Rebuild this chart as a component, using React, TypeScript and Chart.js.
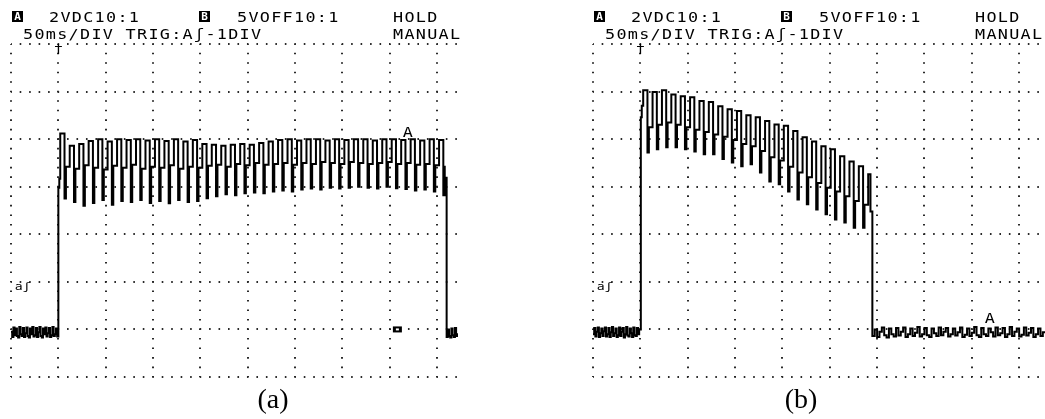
import React, { useEffect, useRef } from "react";
import { Chart, registerables } from "chart.js";
Chart.register(...registerables);

const W = 1045;
const H = 419;

// grid ticks, in divisions
const xTicks = [0, 1, 2, 3, 4, 5, 6, 7, 8, 9];
const yTicks = [0, 1, 2, 3, 4, 5, 6, 7];

// ---------- Panel (a) : values in divisions ----------
const aNoiseBefore = [0.95, 0.84, 1.04, 0.88, 1.02, 0.86, 0.83, 1.05, 0.9, 0.86,
  1.03, 0.84, 0.92, 1.04, 0.86, 0.83, 1.02, 0.9, 1.05, 0.85,
  0.88, 1.03, 0.84, 0.94, 1.05, 0.86, 0.83, 1.02, 0.9, 1.04,
  0.85, 0.92, 1.03, 0.84, 0.88, 1.05, 0.86, 0.9, 1.02, 0.85];
const aRise = [3.98, 4.17];
const aPeak = [5.12, 4.86, 4.9, 4.96, 5.0, 4.95, 5.0, 4.98, 5.0, 4.97,
  5.0, 4.96, 5.0, 4.95, 4.98, 4.9, 4.88, 4.86, 4.88, 4.9,
  4.88, 4.92, 4.95, 4.98, 5.0, 4.97, 5.0, 5.0, 4.97, 5.0,
  4.98, 5.0, 5.0, 4.97, 5.0, 5.0, 4.98, 5.0, 4.97, 5.0,
  4.98];
const aTrough = [3.75, 3.68, 3.6, 3.66, 3.72, 3.62, 3.7, 3.68, 3.72, 3.66,
  3.7, 3.65, 3.72, 3.68, 3.7, 3.76, 3.8, 3.84, 3.82, 3.86,
  3.88, 3.86, 3.9, 3.92, 3.9, 3.94, 3.96, 3.94, 3.98, 3.96,
  3.98, 4.0, 3.98, 3.96, 4.0, 3.97, 3.95, 3.92, 3.94, 3.9,
  3.82];
const aMid = [4.42, 4.38, 4.45, 4.4, 4.36, 4.44, 4.4, 4.46, 4.38, 4.42,
  4.4, 4.45, 4.38, 4.42, 4.4, 4.44, 4.46, 4.42, 4.48, 4.45,
  4.5, 4.46, 4.48, 4.5, 4.46, 4.5, 4.48, 4.52, 4.5, 4.48,
  4.52, 4.5, 4.48, 4.5, 4.52, 4.48, 4.5, 4.46, 4.48, 4.45,
  4.44];
const aFinal = 4.19;
const aNoiseAfter = [0.84, 1.0, 0.86, 0.83, 1.02, 0.88, 0.84, 1.03, 0.86, 0.9];

// ---------- Panel (b) ----------
const bNoiseBefore = [0.9, 1.03, 0.85, 0.95, 1.04, 0.84, 0.92, 1.02, 0.86, 0.96,
  1.04, 0.85, 0.9, 1.03, 0.84, 0.94, 1.05, 0.86, 0.92, 1.02,
  0.84, 0.88, 1.04, 0.86, 0.95, 1.03, 0.83, 0.9, 1.05, 0.87,
  0.85, 1.02, 0.92, 0.84, 1.04, 0.88, 0.86, 1.03, 0.9, 1.0];
const bRise = [5.46, 5.7];
const bPeak = [6.03, 5.99, 6.03, 5.94, 5.9, 5.88, 5.8, 5.78, 5.69, 5.63,
  5.59, 5.5, 5.46, 5.38, 5.31, 5.28, 5.17, 5.04, 4.95, 4.85,
  4.79, 4.64, 4.53, 4.43, 4.26];
const bTrough = [4.72, 4.79, 4.83, 4.83, 4.79, 4.74, 4.68, 4.68, 4.58, 4.51,
  4.43, 4.47, 4.3, 4.11, 4.05, 3.9, 3.73, 3.63, 3.52, 3.42,
  3.31, 3.25, 3.14, 3.14, 3.52];
const bMid = [5.25, 5.3, 5.35, 5.3, 5.25, 5.2, 5.15, 5.1, 5.05, 4.98,
  4.9, 4.85, 4.75, 4.62, 4.55, 4.42, 4.3, 4.2, 4.08, 3.98,
  3.9, 3.8, 3.7, 3.62, 3.48];
const bFinal = 3.48;
const bNoiseAfter = [0.86, 1.0, 0.84, 0.95, 1.04, 0.88, 0.83, 1.02, 0.9, 0.85,
  1.03, 0.87, 0.95, 1.04, 0.84, 0.9, 1.02, 0.86, 0.93, 1.05,
  0.85, 0.9, 1.03, 0.88, 0.84, 1.02, 0.92, 0.86, 1.04, 0.88,
  0.95, 1.03, 0.85, 0.9, 1.02, 0.87, 0.94, 1.04, 0.84, 0.89,
  1.02, 0.86, 0.93, 1.05, 0.88, 0.84, 1.03, 0.9, 0.86, 1.02,
  0.94, 0.85, 1.04, 0.88, 0.92, 1.03, 0.84, 0.9, 1.05, 0.86,
  0.95, 1.02, 0.85, 0.89, 1.04, 0.87, 0.93, 1.03, 0.84, 0.9,
  1.02, 0.86, 0.94];

type Pt = { x: number; y: number };

interface TraceSpec {
  before: number[]; beforeStep: number;
  riseX: number; rise: number[];
  start: number; period: number;
  peak: number[]; trough: number[]; mid: number[];
  final: number; fallX: number;
  after: number[]; afterStep: number;
  xMax: number;
}

// per cycle: peak plateau, a narrow dip to the trough, then the mid step
const PHASE_TROUGH = 0.09;
const PHASE_MID = 0.12;

function buildTrace(o: TraceSpec): Pt[] {
  const pts: Pt[] = [];
  o.before.forEach((v, i) => pts.push({ x: i * o.beforeStep, y: v }));
  pts.push({ x: o.riseX, y: o.rise[0] });
  pts.push({ x: o.riseX + 0.02, y: o.rise[1] });
  const endCycles = o.fallX - 0.04;
  o.peak.forEach((p, i) => {
    const x0 = o.start + i * o.period;
    const seq: [number, number][] = [[0, p], [PHASE_TROUGH, o.trough[i]], [PHASE_MID, o.mid[i]]];
    seq.forEach(([dx, v]) => {
      if (x0 + dx < endCycles) pts.push({ x: x0 + dx, y: v });
    });
  });
  pts.push({ x: endCycles, y: o.final });
  o.after.forEach((v, i) => pts.push({ x: o.fallX + i * o.afterStep, y: v }));
  pts.push({ x: o.xMax, y: o.after[o.after.length - 1] });
  return pts;
}

interface Area { left: number; top: number; right: number; bottom: number }

interface Marker {
  kind: "text" | "rect";
  text?: string;
  x: number; y: number;
  size?: number;
  align?: CanvasTextAlign;
  baseline?: CanvasTextBaseline;
  dy?: number;
}

function makeChart(canvas: HTMLCanvasElement, pts: Pt[], area: Area, xMax: number, markers: Marker[]) {
  const markerPlugin = {
    id: "scopeMarkers",
    afterDatasetsDraw(chart: any) {
      const ctx: CanvasRenderingContext2D = chart.ctx;
      const xs = chart.scales.x;
      const ys = chart.scales.y;
      ctx.save();
      markers.forEach((m) => {
        const px = xs.getPixelForValue(m.x);
        const py = ys.getPixelForValue(m.y) + (m.dy || 0);
        if (m.kind === "rect") {
          ctx.fillStyle = "#000";
          ctx.fillRect(px - 4.5, py - 3, 9, 6);
          ctx.fillStyle = "#fff";
          ctx.fillRect(px - 1.5, py - 1, 3, 2);
          return;
        }
        ctx.fillStyle = "#000";
        ctx.font = `${m.size || 13}px "DejaVu Sans Mono", monospace`;
        ctx.textAlign = m.align || "left";
        ctx.textBaseline = m.baseline || "alphabetic";
        ctx.save();
        ctx.translate(px, py);
        ctx.scale(1.2, 1);
        ctx.fillText(m.text || "", 0, 0);
        ctx.restore();
      });
      ctx.restore();
    },
  };

  return new Chart(canvas, {
    type: "line",
    data: {
      datasets: [
        {
          data: pts as any,
          borderColor: "#000",
          borderWidth: 2,
          pointRadius: 0,
          stepped: true,
          fill: false,
          tension: 0,
        },
      ],
    },
    options: {
      animation: false,
      responsive: false,
      maintainAspectRatio: false,
      events: [],
      layout: {
        padding: { left: area.left, top: area.top, right: W - area.right, bottom: H - area.bottom },
      },
      plugins: { legend: { display: false }, tooltip: { enabled: false }, title: { display: false } },
      scales: {
        x: {
          type: "linear",
          min: 0,
          max: xMax,
          afterBuildTicks: (s: any) => { s.ticks = xTicks.map((v) => ({ value: v })); },
          ticks: { display: false },
          grid: { drawTicks: false, color: "#2a2a2a", lineWidth: 2 },
          border: { display: false, dash: [1.6, 7.91], dashOffset: 0.8 },
        },
        y: {
          type: "linear",
          min: 0,
          max: 7,
          afterBuildTicks: (s: any) => { s.ticks = yTicks.map((v) => ({ value: v })); },
          ticks: { display: false },
          grid: { drawTicks: false, color: "#2a2a2a", lineWidth: 2 },
          border: { display: false, dash: [1.6, 7.87], dashOffset: 0.8 },
        },
      },
    } as any,
    plugins: [markerPlugin],
  });
}

const aArea: Area = { left: 11, top: 44, right: 458, bottom: 377 };
const bArea: Area = { left: 593, top: 44, right: 1045, bottom: 377 };
const aXMax = 9.44;
const bXMax = 9.546;

const monoStyle: React.CSSProperties = {
  position: "absolute",
  fontFamily: '"DejaVu Sans Mono", monospace',
  fontSize: 14,
  lineHeight: "14px",
  letterSpacing: "1.07px",
  transform: "scaleX(1.2)",
  transformOrigin: "0 0",
  whiteSpace: "pre",
  color: "#000",
};

const boxStyle: React.CSSProperties = {
  position: "absolute",
  width: 11,
  height: 11,
  background: "#000",
  color: "#fff",
  fontFamily: '"DejaVu Sans Mono", monospace',
  fontWeight: "bold",
  fontSize: 11,
  lineHeight: "11px",
  textAlign: "center",
};

function Header({ dx }: { dx: number }) {
  return (
    <>
      <div style={{ ...boxStyle, left: 12 + dx, top: 11 }}>A</div>
      <div style={{ ...monoStyle, left: 49 + dx, top: 9.5 }}>2VDC10:1</div>
      <div style={{ ...boxStyle, left: 199 + dx, top: 11 }}>B</div>
      <div style={{ ...monoStyle, left: 237 + dx, top: 9.5 }}>5VOFF10:1</div>
      <div style={{ ...monoStyle, left: 393 + dx, top: 9.5 }}>HOLD</div>
      <div style={{ ...monoStyle, left: 23 + dx, top: 26.5 }}>50ms/DIV TRIG:Aʃ-1DIV</div>
      <div style={{ ...monoStyle, left: 393 + dx, top: 26.5 }}>MANUAL</div>
    </>
  );
}

const captionStyle: React.CSSProperties = {
  position: "absolute",
  fontFamily: '"Liberation Serif", "Times New Roman", serif',
  fontSize: 28,
  lineHeight: "28px",
  width: 80,
  textAlign: "center",
  color: "#000",
};

export default function App() {
  const refA = useRef<HTMLCanvasElement>(null);
  const refB = useRef<HTMLCanvasElement>(null);

  useEffect(() => {
    const ptsA = buildTrace({
      before: aNoiseBefore, beforeStep: 0.025,
      riseX: 1.0, rise: aRise,
      start: 1.04, period: 0.2,
      peak: aPeak, trough: aTrough, mid: aMid,
      final: aFinal, fallX: 9.2,
      after: aNoiseAfter, afterStep: 0.025,
      xMax: aXMax,
    });
    const ptsB = buildTrace({
      before: bNoiseBefore, beforeStep: 0.025,
      riseX: 1.01, rise: bRise,
      start: 1.06, period: 0.198,
      peak: bPeak, trough: bTrough, mid: bMid,
      final: bFinal, fallX: 5.9,
      after: bNoiseAfter, afterStep: 0.05,
      xMax: bXMax,
    });
    const commonMarkers = (aLevel: number): Marker[] => [
      { kind: "text", text: "†", x: 1.0, y: 7, baseline: "top", align: "center", size: 13, dy: -1 },
      { kind: "text", text: "aʃ", x: 0.08, y: 1.89, baseline: "middle", align: "left", size: 11 },
      { kind: "text", text: "A", x: 8.38, y: aLevel, baseline: "alphabetic", align: "center", size: 14 },
    ];
    const chartA = makeChart(refA.current!, ptsA, aArea, aXMax, [
      ...commonMarkers(5.05),
      { kind: "rect", x: 8.16, y: 1.0 },
    ]);
    const chartB = makeChart(refB.current!, ptsB, bArea, bXMax, commonMarkers(1.135));
    return () => {
      chartA.destroy();
      chartB.destroy();
    };
  }, []);

  const canvasStyle: React.CSSProperties = { position: "absolute", left: 0, top: 0, width: W, height: H };

  return (
    <div style={{ position: "fixed", left: 0, top: 0, width: W, height: H, background: "#fff", overflow: "hidden" }}>
      <canvas ref={refA} width={W} height={H} style={canvasStyle} />
      <canvas ref={refB} width={W} height={H} style={canvasStyle} />
      <Header dx={0} />
      <Header dx={582} />
      <div style={{ ...captionStyle, left: 273 - 40, top: 385 }}>(a)</div>
      <div style={{ ...captionStyle, left: 801 - 40, top: 385 }}>(b)</div>
    </div>
  );
}
